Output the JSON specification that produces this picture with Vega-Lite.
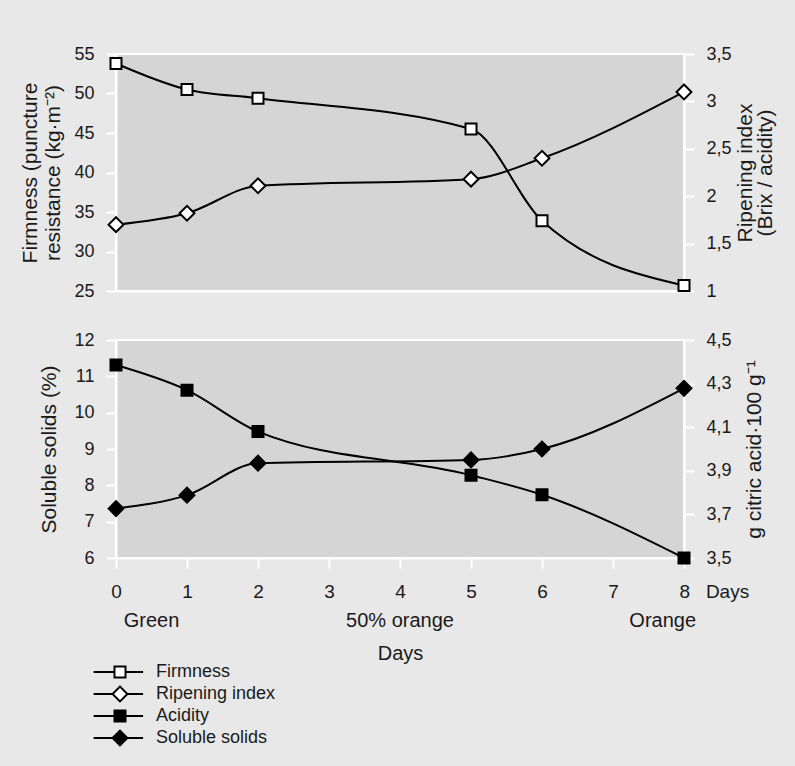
{
  "$schema": "https://vega.github.io/schema/vega-lite/v6.json",
  "background": "#e8e8e8",
  "padding": {"left": 18, "top": 44, "right": 20, "bottom": 20},
  "spacing": 29,
  "config": {
    "font": "Liberation Sans",
    "view": {"fill": "#d5d5d5", "stroke": "white", "strokeWidth": 2},
    "axis": {
      "domainColor": "white", "domainWidth": 2,
      "tickColor": "white", "tickWidth": 2, "tickSize": 10,
      "labelPadding": 12, "labelFontSize": 18, "labelColor": "#1a1a1a",
      "labelFont": "Liberation Sans", "titleFont": "Liberation Sans",
      "titleFontSize": 21, "titleFontWeight": "normal", "titleColor": "#1a1a1a",
      "grid": false
    },
    "legend": {
      "labelFont": "Liberation Sans", "labelFontSize": 18, "labelColor": "#1a1a1a",
      "symbolStrokeColor": "black", "symbolStrokeWidth": 2, "symbolSize": 121,
      "padding": 0, "rowPadding": 0, "labelOffset": 27
    }
  },
  "datasets": {
    "d": [
      {"day": 0, "series": "Firmness", "value": 53.8},
      {"day": 1, "series": "Firmness", "value": 50.5},
      {"day": 2, "series": "Firmness", "value": 49.4},
      {"day": 5, "series": "Firmness", "value": 45.5},
      {"day": 6, "series": "Firmness", "value": 33.9},
      {"day": 8, "series": "Firmness", "value": 25.7},
      {"day": 0, "series": "Ripening index", "value": 1.70},
      {"day": 1, "series": "Ripening index", "value": 1.82},
      {"day": 2, "series": "Ripening index", "value": 2.11},
      {"day": 5, "series": "Ripening index", "value": 2.18},
      {"day": 6, "series": "Ripening index", "value": 2.40},
      {"day": 8, "series": "Ripening index", "value": 3.10},
      {"day": 0, "series": "Acidity", "value": 4.385},
      {"day": 1, "series": "Acidity", "value": 4.27},
      {"day": 2, "series": "Acidity", "value": 4.08},
      {"day": 5, "series": "Acidity", "value": 3.88},
      {"day": 6, "series": "Acidity", "value": 3.79},
      {"day": 8, "series": "Acidity", "value": 3.50},
      {"day": 0, "series": "Soluble solids", "value": 7.36},
      {"day": 1, "series": "Soluble solids", "value": 7.73},
      {"day": 2, "series": "Soluble solids", "value": 8.61},
      {"day": 5, "series": "Soluble solids", "value": 8.70},
      {"day": 6, "series": "Soluble solids", "value": 9.0},
      {"day": 8, "series": "Soluble solids", "value": 10.67}
    ],
    "stages": [
      {"day": 0.5, "label": "Green"},
      {"day": 4, "label": "50% orange"},
      {"day": 7.7, "label": "Orange"}
    ]
  },
  "vconcat": [
    {
      "width": 568, "height": 237,
      "data": {"name": "d"},
      "encoding": {
        "x": {"field": "day", "type": "quantitative", "scale": {"domain": [0, 8], "nice": false, "zero": false},
              "axis": {"labels": false, "ticks": false, "title": null}}
      },
      "layer": [
        {
          "encoding": {
            "y": {"field": "value", "type": "quantitative", "scale": {"domain": [25, 55], "nice": false, "zero": false},
                  "axis": {"orient": "left", "values": [25, 30, 35, 40, 45, 50, 55], "title": ["Firmness (puncture", "resistance (kg·m⁻²)"], "titlePadding": 10}}
          },
          "layer": [
            {"transform": [{"filter": "datum.series === 'Firmness'"}],
             "mark": {"type": "line", "interpolate": "monotone", "color": "black", "strokeWidth": 2}},
            {"transform": [{"filter": "datum.series === 'Firmness'"}],
             "mark": {"type": "point", "shape": "square", "size": 121, "strokeWidth": 2, "stroke": "black", "filled": true, "opacity": 1},
             "encoding": {
               "fill": {"field": "series", "type": "nominal", "scale": {"domain": ["Firmness", "Ripening index", "Acidity", "Soluble solids"], "range": ["white", "white", "black", "black"]},
                        "legend": {"title": null, "orient": "none", "legendX": -5, "legendY": 609, "direction": "vertical",
                                   "symbolType": {"expr": "(datum.value === 'Firmness' || datum.value === 'Acidity') ? 'M-4.8,0H-1M1,0H4.2M-1,-1H1V1H-1Z' : 'M-4.8,0H-1.35M1.35,0H4.2M-1.35,0L0,-1.35L1.35,0L0,1.35Z'"},
                                   "encode": {"symbols": {"stroke": {"value": "black"}, "strokeWidth": {"value": 2}}}}}
             }}
          ]
        },
        {
          "encoding": {
            "y": {"field": "value", "type": "quantitative", "scale": {"domain": [1, 3.5], "nice": false, "zero": false},
                  "axis": {"orient": "right", "values": [1, 1.5, 2, 2.5, 3, 3.5], "labelExpr": "replace(toString(datum.value), '.', ',')", "title": ["Ripening index", "(Brix / acidity)"], "titleAngle": 270, "titleBaseline": "top", "titleLineHeight": 20, "titlePadding": -17}}
          },
          "layer": [
            {"transform": [{"filter": "datum.series === 'Ripening index'"}],
             "mark": {"type": "line", "interpolate": "monotone", "color": "black", "strokeWidth": 2}},
            {"transform": [{"filter": "datum.series === 'Ripening index'"}],
             "mark": {"type": "point", "shape": "diamond", "size": 220, "strokeWidth": 2, "stroke": "black", "filled": true, "opacity": 1},
             "encoding": {
               "fill": {"field": "series", "type": "nominal", "scale": {"domain": ["Firmness", "Ripening index", "Acidity", "Soluble solids"], "range": ["white", "white", "black", "black"]},
                        "legend": {"title": null, "orient": "none", "legendX": -5, "legendY": 609, "direction": "vertical",
                                   "symbolType": {"expr": "(datum.value === 'Firmness' || datum.value === 'Acidity') ? 'M-4.8,0H-1M1,0H4.2M-1,-1H1V1H-1Z' : 'M-4.8,0H-1.35M1.35,0H4.2M-1.35,0L0,-1.35L1.35,0L0,1.35Z'"},
                                   "encode": {"symbols": {"stroke": {"value": "black"}, "strokeWidth": {"value": 2}}}}}
             }}
          ]
        }
      ],
      "resolve": {"scale": {"y": "independent"}}
    },
    {
      "spacing": 9,
      "vconcat": [
        {
          "width": 568, "height": 218,
          "data": {"name": "d"},
          "encoding": {
            "x": {"field": "day", "type": "quantitative", "scale": {"domain": [0, 8], "nice": false, "zero": false},
                  "axis": {"values": [0, 1, 2, 3, 4, 5, 6, 7, 8], "title": null, "labelFontSize": 19, "labelPadding": 14,
                           "labelExpr": "datum.value === 8 ? '8\u00a0\u00a0 Days' : datum.label",
                           "labelAlign": {"condition": {"test": "datum.value === 8", "value": "left"}, "value": "center"},
                           "labelOffset": {"condition": {"test": "datum.value === 8", "value": -5}, "value": 0}}}
          },
          "layer": [
            {
              "encoding": {
                "y": {"field": "value", "type": "quantitative", "scale": {"domain": [3.5, 4.5], "nice": false, "zero": false},
                      "axis": {"orient": "right", "values": [3.5, 3.7, 3.9, 4.1, 4.3, 4.5], "labelExpr": "replace(toString(datum.value), '.', ',')", "title": "g citric acid·100 g⁻¹", "titleAngle": 270, "titleBaseline": "top", "titlePadding": 12}}
              },
              "layer": [
                {"transform": [{"filter": "datum.series === 'Acidity'"}],
                 "mark": {"type": "line", "interpolate": "monotone", "color": "black", "strokeWidth": 2}},
                {"transform": [{"filter": "datum.series === 'Acidity'"}],
                 "mark": {"type": "point", "shape": "square", "size": 121, "strokeWidth": 2, "stroke": "black", "filled": true, "opacity": 1},
                 "encoding": {
                   "fill": {"field": "series", "type": "nominal", "scale": {"domain": ["Firmness", "Ripening index", "Acidity", "Soluble solids"], "range": ["white", "white", "black", "black"]},
                            "legend": {"title": null, "orient": "none", "legendX": -5, "legendY": 609, "direction": "vertical",
                                       "symbolType": {"expr": "(datum.value === 'Firmness' || datum.value === 'Acidity') ? 'M-4.8,0H-1M1,0H4.2M-1,-1H1V1H-1Z' : 'M-4.8,0H-1.35M1.35,0H4.2M-1.35,0L0,-1.35L1.35,0L0,1.35Z'"},
                                       "encode": {"symbols": {"stroke": {"value": "black"}, "strokeWidth": {"value": 2}}}}}
                 }}
              ]
            },
            {
              "encoding": {
                "y": {"field": "value", "type": "quantitative", "scale": {"domain": [6, 12], "nice": false, "zero": false},
                      "axis": {"orient": "left", "values": [6, 7, 8, 9, 10, 11, 12], "title": "Soluble solids (%)", "titlePadding": 14}}
              },
              "layer": [
                {"transform": [{"filter": "datum.series === 'Soluble solids'"}],
                 "mark": {"type": "line", "interpolate": "monotone", "color": "black", "strokeWidth": 2}},
                {"transform": [{"filter": "datum.series === 'Soluble solids'"}],
                 "mark": {"type": "point", "shape": "diamond", "size": 220, "strokeWidth": 2, "stroke": "black", "filled": true, "opacity": 1},
                 "encoding": {
                   "fill": {"field": "series", "type": "nominal", "scale": {"domain": ["Firmness", "Ripening index", "Acidity", "Soluble solids"], "range": ["white", "white", "black", "black"]},
                            "legend": {"title": null, "orient": "none", "legendX": -5, "legendY": 609, "direction": "vertical",
                                       "symbolType": {"expr": "(datum.value === 'Firmness' || datum.value === 'Acidity') ? 'M-4.8,0H-1M1,0H4.2M-1,-1H1V1H-1Z' : 'M-4.8,0H-1.35M1.35,0H4.2M-1.35,0L0,-1.35L1.35,0L0,1.35Z'"},
                                       "encode": {"symbols": {"stroke": {"value": "black"}, "strokeWidth": {"value": 2}}}}}
                 }}
              ]
            }
          ],
          "resolve": {"scale": {"y": "independent"}}
        },
        {
          "width": 568, "height": 20,
          "view": {"fill": null, "stroke": null},
          "data": {"name": "stages"},
          "mark": {"type": "text", "fontSize": 20, "baseline": "middle", "align": "center", "color": "#1a1a1a", "font": "Liberation Sans"},
          "encoding": {
            "x": {"field": "day", "type": "quantitative", "scale": {"domain": [0, 8], "nice": false, "zero": false},
                  "axis": {"domain": false, "ticks": false, "labels": false, "title": "Days", "titleFontSize": 20, "titlePadding": 12}},
            "text": {"field": "label"}
          }
        }
      ]
    }
  ]
}
